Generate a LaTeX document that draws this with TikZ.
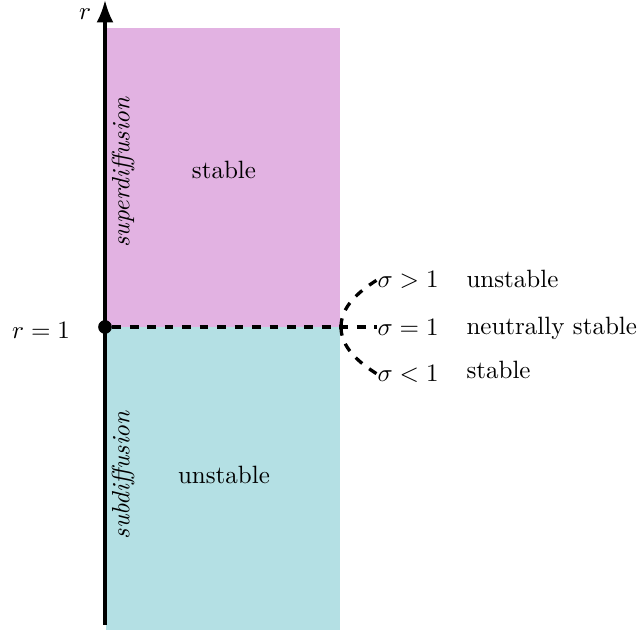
\documentclass[tikz,border=0pt]{standalone}
\usetikzlibrary{arrows.meta}
\definecolor{pinkc}{RGB}{226,178,226}
\definecolor{cyanc}{RGB}{180,224,228}
\begin{document}
\begin{tikzpicture}[x=0.4237pt,y=0.4237pt,
  dashln/.style={line width=1.4pt,dash pattern=on 3.7pt off 3.7pt},
  lbl/.style={inner sep=0pt,scale=1.06,transform shape}]
\useasboundingbox (0,0) rectangle (639,632);
\fill[pinkc] (106,305) rectangle (340,604);
\fill[cyanc] (106,2) rectangle (340,305);
\draw[line width=1.35pt,-{Latex[length=9.5pt,width=7.2pt]}] (105,7) -- (105,632);
\node[lbl] (r) at (85,618) {$r$};
\node[lbl] (r1) at (41,302) {$r=1$};
\node[fill,circle,inner sep=0pt,minimum size=5.8pt] (dot) at (105,305) {};
\coordinate (j) at (341,305);
\node[lbl] (st) at (224,462) {stable};
\node[lbl] (un) at (224,157) {unstable};
\node[lbl,rotate=90] (sup) at (123,460) {\textit{superdiffusion}};
\node[lbl,rotate=90] (sub) at (123,157) {\textit{subdiffusion}};
\node[lbl,anchor=west] (s1) at (377,352) {$\sigma>1$};
\node[lbl,anchor=west] (s2) at (377,305) {$\sigma=1$};
\node[lbl,anchor=west] (s3) at (377,258) {$\sigma<1$};
\node[lbl,anchor=base west] (w1) at (466,344) {unstable};
\node[lbl,anchor=base west] (w2) at (466,297) {neutrally stable};
\node[lbl,anchor=base west] (w3) at (466,253) {stable};
\draw[dashln] (dot) -- (j) -- (s2.west);
\draw[dashln] (j) .. controls (341,325) and (358,340) .. (s1.west);
\draw[dashln] (j) .. controls (341,285) and (358,270) .. (s3.west);
\end{tikzpicture}
\end{document}
